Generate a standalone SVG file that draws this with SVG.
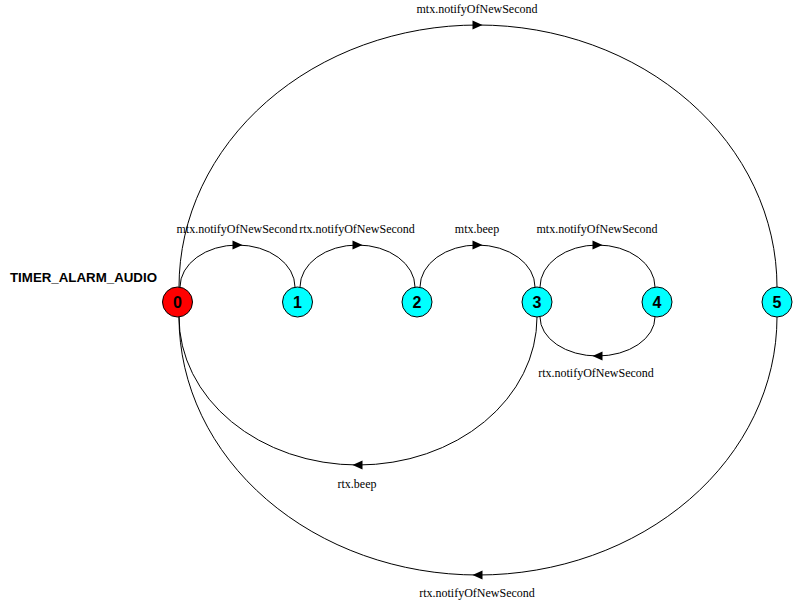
<svg xmlns="http://www.w3.org/2000/svg" width="807" height="606" viewBox="0 0 807 606">
<style>
.edge{fill:none;stroke:#000;stroke-width:1}
.ah{fill:#000;stroke:none}
.lbl{font-family:"Liberation Serif","Times New Roman",serif;font-size:12px;fill:#000;text-anchor:middle}
.node circle{stroke:#000;stroke-width:1}
.init circle{fill:#ff0000}
.st circle{fill:#00ffff}
.node text{font-family:"Liberation Sans",Arial,sans-serif;font-size:16px;font-weight:bold;fill:#000;text-anchor:middle}
.title{font-family:"Liberation Sans",Arial,sans-serif;font-size:13.3px;font-weight:bold;fill:#000}
</style>
<defs>
<path id="ah" d="M5,0 L-5,-4.5 L-5,4.5 Z"/>
</defs>
<rect width="807" height="606" fill="#fff"/>
<text class="title" x="10" y="282">TIMER_ALARM_AUDIO</text>
<g id="connectors">
<path class="edge" d="M180,287 A57.5,42 0 0 1 295,287"/>
<use href="#ah" class="ah" x="0" y="0" transform="translate(237.5,245)"/>
<text class="lbl" x="237" y="233">mtx.notifyOfNewSecond</text>
<path class="edge" d="M300,287 A57.5,42 0 0 1 415,287"/>
<use href="#ah" class="ah" transform="translate(357.5,245)"/>
<text class="lbl" x="357" y="233">rtx.notifyOfNewSecond</text>
<path class="edge" d="M420,287 A57.5,42 0 0 1 535,287"/>
<use href="#ah" class="ah" transform="translate(477.5,245)"/>
<text class="lbl" x="477" y="233">mtx.beep</text>
<path class="edge" d="M540,287 A57.5,42 0 0 1 655,287"/>
<use href="#ah" class="ah" transform="translate(597.5,245)"/>
<text class="lbl" x="597" y="233">mtx.notifyOfNewSecond</text>
<path class="edge" d="M655,317 A57.5,39 0 0 1 540,317"/>
<use href="#ah" class="ah" transform="translate(597.5,356) rotate(180)"/>
<text class="lbl" x="596" y="377">rtx.notifyOfNewSecond</text>
<path class="edge" d="M537,317 A179,148 0 0 1 179,317"/>
<use href="#ah" class="ah" transform="translate(357.5,465) rotate(180)"/>
<text class="lbl" x="357" y="488">rtx.beep</text>
<path class="edge" d="M179,287 A299,262 0 0 1 777,287"/>
<use href="#ah" class="ah" transform="translate(477.5,25)"/>
<text class="lbl" x="477" y="13">mtx.notifyOfNewSecond</text>
<path class="edge" d="M777,317 A299,258 0 0 1 179,317"/>
<use href="#ah" class="ah" transform="translate(477.5,575) rotate(180)"/>
<text class="lbl" x="477" y="597">rtx.notifyOfNewSecond</text>
</g>
<g id="node0" class="node init"><circle cx="177.5" cy="302" r="15"/><text x="177.5" y="308">0</text></g>
<g id="node1" class="node st"><circle cx="297.5" cy="302" r="15"/><text x="297.5" y="308">1</text></g>
<g id="node2" class="node st"><circle cx="417" cy="302" r="15"/><text x="417" y="308">2</text></g>
<g id="node3" class="node st"><circle cx="537" cy="302" r="15"/><text x="537" y="308">3</text></g>
<g id="node4" class="node st"><circle cx="657" cy="302" r="15"/><text x="657" y="308">4</text></g>
<g id="node5" class="node st"><circle cx="777" cy="302" r="15"/><text x="777" y="308">5</text></g>
</svg>
